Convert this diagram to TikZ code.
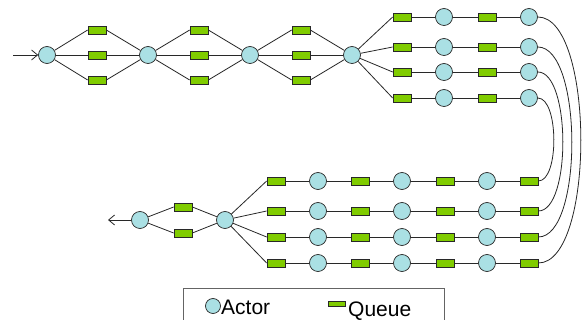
\documentclass[tikz,border=0pt]{standalone}
\usepackage{fontspec}
\setmainfont{Liberation Sans}
\usetikzlibrary{arrows.meta}
\definecolor{actorfill}{RGB}{170,224,228}
\definecolor{queuefill}{RGB}{128,204,0}
\definecolor{edgecol}{RGB}{40,40,40}
\definecolor{framecol}{RGB}{100,100,100}
\begin{document}
\begin{tikzpicture}[x=1pt,y=-1pt,
  actor/.style={circle,draw=edgecol,fill=actorfill,line width=0.7pt,minimum size=17pt,inner sep=0pt},
  queue/.style={rectangle,draw=edgecol,fill=queuefill,line width=0.7pt,minimum width=18pt,minimum height=8pt,inner sep=0pt},
  link/.style={draw=edgecol,line width=0.8pt},
  loopback/.style={draw=black!85,line width=0.8pt},
  flow/.style={link,-{Straight Barb[length=6pt,width=10pt]}},
  legendframe/.style={draw=framecol,line width=1pt},
  legendtext/.style={anchor=base west,inner sep=0pt,font=\fontsize{21}{24}\selectfont}]

\useasboundingbox (0,0) rectangle (582,320);

% ---- upper pipeline: three split/join stages ----
\coordinate (in) at (13,55);
\node[actor] (a1) at (47,55) {};
\node[actor] (a2) at (148,55) {};
\node[actor] (a3) at (250,55) {};
\node[actor] (a4) at (352,55) {};
\foreach \i/\x in {1/97,2/199,3/301}{
  \foreach \j/\y in {a/30,b/55,c/80}{
    \node[queue] (q\i\j) at (\x,\y) {};
  }
}
\draw[flow] (in) -- (a1);
\foreach \j in {a,b,c}{
  \draw[link] (a1) -- (q1\j.west);
  \draw[link] (q1\j.east) -- (a2);
  \draw[link] (a2) -- (q2\j.west);
  \draw[link] (q2\j.east) -- (a3);
  \draw[link] (a3) -- (q3\j.west);
  \draw[link] (q3\j.east) -- (a4);
}

% ---- upper parallel rows ----
\foreach \r/\y in {1/17,2/47,3/72,4/98}{
  \node[queue] (tqa\r) at (402,\y) {};
  \node[actor] (taa\r) at (444,\y) {};
  \node[queue] (tqb\r) at (487,\y) {};
  \node[actor] (tab\r) at (529,\y) {};
  \draw[link] (a4) -- (tqa\r.west);
  \draw[link] (tqa\r) -- (taa\r);
  \draw[link] (taa\r) -- (tqb\r);
  \draw[link] (tqb\r) -- (tab\r);
}

% ---- lower parallel rows ----
\node[actor] (b2) at (225,220) {};
\node[actor] (b1) at (140,220) {};
\coordinate (out) at (108,220);
\foreach \r/\y in {1/181,2/211,3/237,4/263}{
  \node[queue] (bqa\r) at (276,\y) {};
  \node[actor] (baa\r) at (318,\y) {};
  \node[queue] (bqb\r) at (360,\y) {};
  \node[actor] (bab\r) at (402,\y) {};
  \node[queue] (bqc\r) at (445,\y) {};
  \node[actor] (bac\r) at (487,\y) {};
  \node[queue] (bqd\r) at (529,\y) {};
  \draw[link] (b2) -- (bqa\r.west);
  \draw[link] (bqa\r) -- (baa\r);
  \draw[link] (baa\r) -- (bqb\r);
  \draw[link] (bqb\r) -- (bab\r);
  \draw[link] (bab\r) -- (bqc\r);
  \draw[link] (bqc\r) -- (bac\r);
  \draw[link] (bac\r) -- (bqd\r);
}

% ---- nested return arcs on the right ----
\foreach \t/\b/\d in {4/1/21, 3/2/33, 2/3/45, 1/4/57}{
  \draw[loopback] (tab\t.east) .. controls +(\d,0) and +(\d,0) .. (bqd\b.east);
}

% ---- final join stage ----
\node[queue] (bq1) at (183,207) {};
\node[queue] (bq2) at (183,233) {};
\foreach \k in {1,2}{
  \draw[link] (bq\k.east) -- (b2);
  \draw[link] (b1) -- (bq\k.west);
}
\draw[flow] (b1) -- (out);

% ---- legend ----
\draw[legendframe] (183,322) -- (183,289) -- (444,289) -- (444,322);
\node[actor,minimum size=15pt] (lgA) at (213,306) {};
\node[legendtext] (lgAt) at (221,315) {Actor};
\node[queue,minimum width=17pt,minimum height=5pt] (lgQ) at (336.5,304) {};
\node[legendtext] (lgQt) at (348,316.5) {Queue};
\end{tikzpicture}
\end{document}
